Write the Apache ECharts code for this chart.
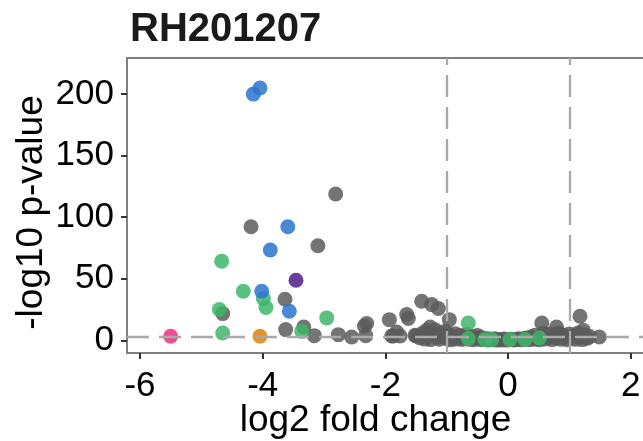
<!DOCTYPE html>
<html lang="en">
<head>
    <meta charset="UTF-8">
    <title>RH201207</title>
    <script src="https://cdn.jsdelivr.net/npm/echarts@6/dist/echarts.min.js"></script>
    <style>
        html, body { margin: 0; padding: 0; background: #fff; }
        #main { width: 643px; height: 441px; }
    </style>
</head>
<body>
<div id="main"></div>

<script>
    // tick labels
    var xTicks = [-6, -4, -2, 0, 2];
    var yTicks = [0, 50, 100, 150, 200];

    // threshold lines
    var fcCut = [-1, 1];
    var pCut = 2.5;

    // [log2 fold change, -log10 p-value]
    var grayPts = [
        [-2.81, 118.8], [-4.19, 92.2], [-3.10, 76.8], [-3.636, 33.4], [-4.652, 21.7],
        [-2.304, 13.6], [-2.343, 11.6], [-3.625, 8.7], [-3.33, 10.8], [-3.159, 3.8],
        [-2.767, 4.6], [-2.549, 2.7], [-2.32, 3.8],
        [-1.935, 16.8], [-1.815, 6.8], [-1.897, 3.5], [-1.652, 20.9], [-1.626, 17.7],
        [-1.50, 3.5], [-1.408, 31.7], [-1.245, 29.0], [-1.137, 25.8], [-1.27, 10.8],
        [-0.957, 16.8], [0.55, 14.1], [1.173, 19.5], [1.227, 8.1], [1.488, 2.7],
        [0.79, 10.8], [-1.517, 4.1], [-1.87, 3.6], [-1.76, 3.5],
        // dense part around 0
        [-1.44, 2.1], [-1.40, 5.6], [-1.36, 1.0], [-1.33, 7.9], [-1.30, 3.4], [-1.26, 0.6],
        [-1.22, 5.1], [-1.19, 8.6], [-1.16, 2.3], [-1.12, 0.9], [-1.09, 6.2], [-1.05, 3.0],
        [-1.02, 7.4], [-0.99, 1.2], [-0.96, 4.6],
        [-0.93, 0.4], [-0.90, 2.7], [-0.86, 5.3], [-0.83, 1.1], [-0.79, 3.9], [-0.75, 0.7],
        [-0.72, 2.2], [-0.68, 4.8], [-0.64, 0.9], [-0.60, 3.1], [-0.57, 0.5], [-0.53, 1.8],
        [-0.50, 4.0], [-0.47, 0.8],
        [-0.44, 2.3], [-0.41, 0.6], [-0.37, 1.4], [-0.33, 0.3], [-0.30, 1.0], [-0.26, 0.4],
        [-0.22, 1.2], [-0.18, 0.2], [-0.15, 0.7], [-0.11, 0.3], [-0.07, 1.0], [-0.03, 0.2],
        [0.01, 0.5], [0.05, 0.9], [0.09, 0.3], [0.13, 0.6], [0.17, 1.3], [0.21, 0.4],
        [0.25, 1.0], [0.29, 1.8], [0.33, 0.6],
        [0.37, 2.6], [0.40, 0.8], [0.44, 4.2], [0.47, 1.5], [0.51, 0.4], [0.54, 3.3],
        [0.58, 5.8], [0.61, 1.0], [0.65, 2.4], [0.68, 4.9], [0.72, 0.6], [0.75, 3.6],
        [0.79, 1.7], [0.82, 6.1], [0.86, 0.9], [0.89, 4.4], [0.93, 2.5], [0.96, 0.5],
        [1.00, 5.2], [1.03, 1.9], [1.07, 3.8], [1.10, 0.8], [1.14, 6.0], [1.17, 2.7],
        [1.21, 0.6], [1.25, 4.3], [1.29, 1.6], [1.33, 3.0]
    ];
    var greenPts = [
        [-4.668, 64.3], [-4.316, 39.9], [-3.99, 33.9], [-3.946, 26.6], [-4.707, 25.0],
        [-2.956, 18.2], [-4.652, 6.0], [-3.364, 7.3], [-0.648, 14.1], [-0.648, 1.4],
        [-0.376, 0.6], [-0.267, 0.6], [0.032, 0.6], [0.277, 0.8], [0.51, 1.9]
    ];
    var bluePts = [
        [-4.153, 200], [-4.044, 204.9], [-3.59, 92.2], [-3.876, 73.3], [-4.016, 39.9], [-3.566, 23.6]
    ];
    var purplePts = [[-3.457, 48.8]];
    var pinkPts = [[-5.50, 3.3]];
    var orangePts = [[-4.044, 3.3]];

    var font = "'Liberation Sans', Arial, Helvetica, sans-serif";

    function dots(name, data, color) {
        return {
            name: name,
            type: 'scatter',
            data: data,
            symbolSize: 15,
            itemStyle: { color: color, opacity: 0.85 }
        };
    }

    var myChart = echarts.init(document.getElementById('main'));

    var grayS = dots('ns', grayPts, '#5c5c5c');
    grayS.markLine = {
        silent: true,
        symbol: 'none',
        label: { show: false },
        lineStyle: { color: '#a9a9a9', width: 2.3, type: [22, 10] },
        data: [{ xAxis: fcCut[0] }, { xAxis: fcCut[1] }, { yAxis: pCut }]
    };

    var option = {
        animation: false,
        title: {
            text: 'RH201207',
            left: 130,
            top: 10,
            padding: 0,
            textStyle: { fontFamily: font, fontSize: 40, fontWeight: 'bold', color: '#1a1a1a' }
        },
        grid: {
            left: 127,
            top: 58,
            bottom: 88,
            right: 0,
            outerBoundsMode: 'none',
            containLabel: false,
            show: false
        },
        xAxis: [{
            type: 'value',
            min: -6.212,
            max: 2.2,
            name: 'log2 fold change',
            nameLocation: 'middle',
            nameGap: 49,
            nameMoveOverlap: false,
            nameTextStyle: { fontFamily: font, fontSize: 37, color: '#000', padding: [0, 19, 0, 0] },
            splitLine: { show: false },
            axisLine: { show: true, onZero: false, lineStyle: { color: '#7f7f7f', width: 2 } },
            axisTick: { show: true, customValues: xTicks, length: 6, lineStyle: { color: '#333', width: 2 } },
            axisLabel: { customValues: xTicks, fontFamily: font, fontSize: 35, color: '#000', margin: 16 }
        }, {
            // top edge of the panel
            type: 'value',
            position: 'top',
            min: -6.212,
            max: 2.2,
            splitLine: { show: false },
            axisLine: { show: true, onZero: false, lineStyle: { color: '#7f7f7f', width: 2 } },
            axisTick: { show: false },
            axisLabel: { show: false }
        }],
        yAxis: {
            type: 'value',
            min: -10.3,
            max: 229.3,
            name: '-log10 p-value',
            nameLocation: 'middle',
            nameGap: 77,
            nameMoveOverlap: false,
            nameTextStyle: { fontFamily: font, fontSize: 37, color: '#000', padding: [0, 14, 0, 0] },
            splitLine: { show: false },
            axisLine: { show: true, onZero: false, lineStyle: { color: '#7f7f7f', width: 2 } },
            axisTick: { show: true, customValues: yTicks, length: 6, lineStyle: { color: '#333', width: 2 } },
            axisLabel: { customValues: yTicks, fontFamily: font, fontSize: 35, color: '#000', margin: 13 }
        },
        series: [
            grayS,
            dots('green', greenPts, '#3eb66b'),
            dots('blue', bluePts, '#2a75cc'),
            dots('purple', purplePts, '#501c89'),
            dots('pink', pinkPts, '#eb2e80'),
            dots('orange', orangePts, '#da8308')
        ]
    };

    myChart.setOption(option);
</script>
</body>
</html>
